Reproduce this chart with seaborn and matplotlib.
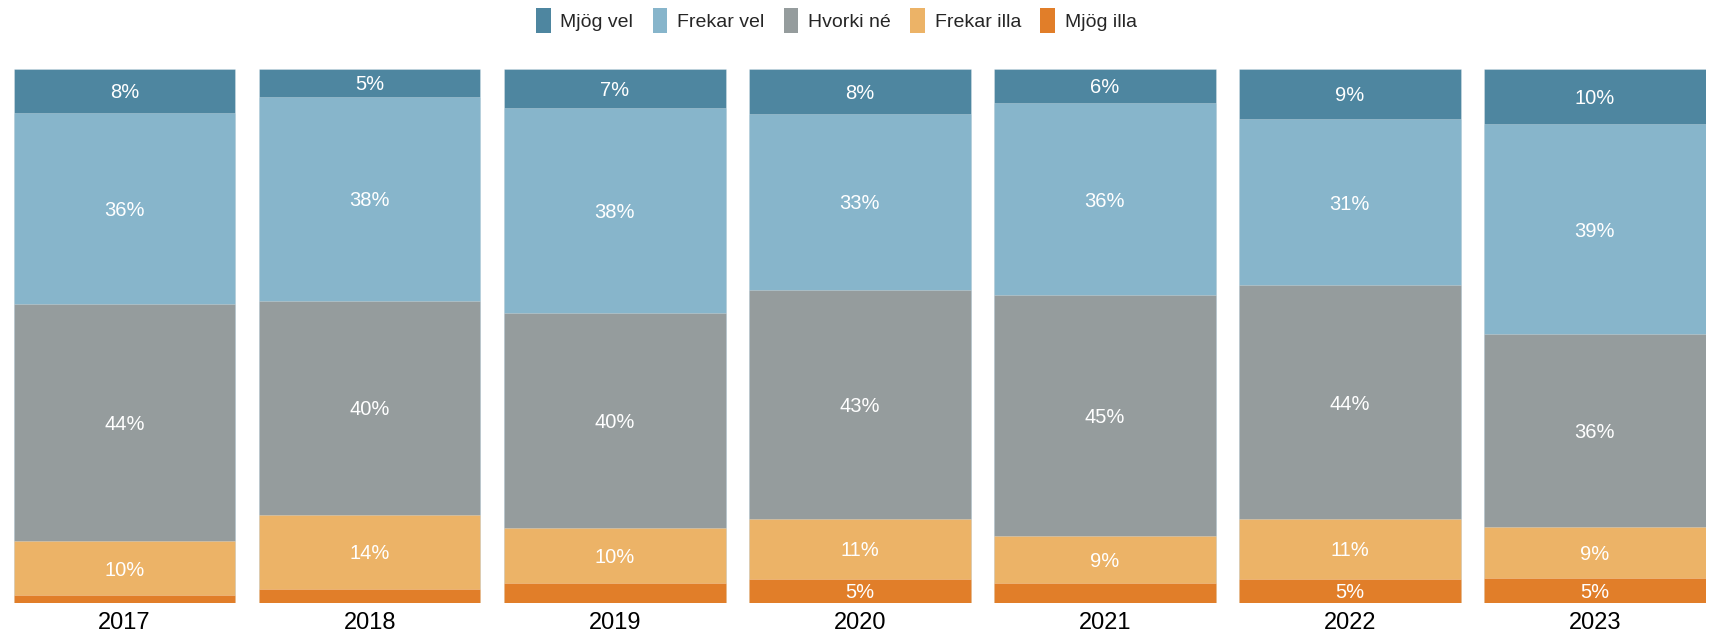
import matplotlib
matplotlib.use("Agg")
import matplotlib.pyplot as plt
import seaborn as sns
import numpy as np
import pandas as pd
from matplotlib.patches import Patch

years = ["2017", "2018", "2019", "2020", "2021", "2022", "2023"]
categories = ["Mjög vel", "Frekar vel", "Hvorki né", "Frekar illa", "Mjög illa"]
mjog_vel = [8.3, 5.2, 7.4, 8.4, 6.4, 9.4, 10.4]
frekar_vel = [35.8, 38.2, 38.3, 32.9, 36.0, 31.1, 39.3]
hvorki_ne = [44.3, 40.0, 40.3, 43.0, 45.0, 43.8, 36.1]
frekar_illa = [10.1, 13.9, 10.2, 11.1, 8.9, 11.1, 9.4]
mjog_illa = [1.5, 2.7, 3.8, 4.6, 3.7, 4.6, 4.8]
colors = ["#4E86A0", "#87B5CB", "#959C9D", "#ECB367", "#E17E29"]

sns.set_theme(style="white")
plt.rcParams['font.family'] = ['Liberation Sans', 'DejaVu Sans']

series = [mjog_vel, frekar_vel, hvorki_ne, frekar_illa, mjog_illa]
df = pd.DataFrame({c: s for c, s in zip(categories, series)}, index=years)

fig = plt.figure(figsize=(17.21, 6.37), dpi=100)
ax = fig.add_axes([0.008, 0.053, 0.983, 0.839])

bottom_order = categories[::-1]
cum = df[bottom_order].cumsum(axis=1)
for cat in categories:
    col = colors[categories.index(cat)]
    sns.barplot(x=years, y=cum[cat].values, color=col, width=0.905,
                edgecolor=(1, 1, 1, 0.35), linewidth=0.5, ax=ax, saturation=1)

for i, yr in enumerate(years):
    base = 0.0
    for cat in bottom_order:
        v = df.loc[yr, cat]
        if round(v) >= 5:
            ax.text(i, base + v / 2, f"{round(v)}%", ha="center",
                    va="center_baseline", color="white", fontsize=14.5)
        base += v

ax.set_xlim(-0.4525, 6.4525)
ax.set_ylim(0, 100)
ax.set_yticks([])
ax.set_ylabel("")
ax.tick_params(axis="x", length=0, labelsize=17, pad=6, colors="black")
for s in ax.spines.values():
    s.set_visible(False)

handles = [Patch(facecolor=c, edgecolor="none") for c in colors]
fig.legend(handles, categories, loc="center", bbox_to_anchor=(0.486, 0.968),
           ncol=5, frameon=False, fontsize=14, handlelength=0.75,
           handleheight=1.6, columnspacing=1.0, handletextpad=0.5)

fig.savefig("out.png", dpi=100)
